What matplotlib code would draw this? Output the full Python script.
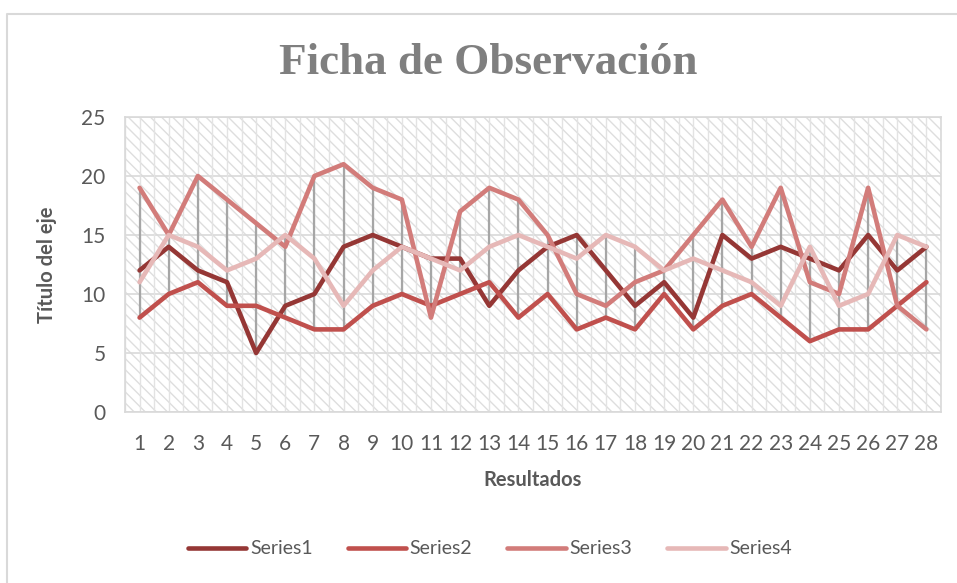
import matplotlib
matplotlib.use("Agg")
import matplotlib.pyplot as plt
from matplotlib.patches import Rectangle
from matplotlib.lines import Line2D
import numpy as np

categories = list(range(1, 29))
series1 = [12, 14, 12, 11, 5, 9, 10, 14, 15, 14, 13, 13, 9, 12, 14, 15, 12, 9, 11, 8, 15, 13, 14, 13, 12, 15, 12, 14]
series2 = [8, 10, 11, 9, 9, 8, 7, 7, 9, 10, 9, 10, 11, 8, 10, 7, 8, 7, 10, 7, 9, 10, 8, 6, 7, 7, 9, 11]
series3 = [19, 15, 20, 18, 16, 14, 20, 21, 19, 18, 8, 17, 19, 18, 15, 10, 9, 11, 12, 15, 18, 14, 19, 11, 10, 19, 9, 7]
series4 = [11, 15, 14, 12, 13, 15, 13, 9, 12, 14, 13, 12, 14, 15, 14, 13, 15, 14, 12, 13, 12, 11, 9, 14, 9, 10, 15, 14]
series_names = ["Series1", "Series2", "Series3", "Series4"]
colors = ["#953735", "#c0504d", "#d27c7a", "#e6b8b7"]
y_ticks = [0, 5, 10, 15, 20, 25]

W, H = 957, 583
fig = plt.figure(figsize=(W / 100, H / 100), dpi=100)
ax = fig.add_axes([125 / W, (H - 412) / H, (941 - 125) / W, (412 - 117) / H])

x = np.array(categories)
data = np.array([series1, series2, series3, series4])

ax.set_xlim(0.5, 28.5)
ax.set_ylim(0, 25)

# hatched background
bg = Rectangle((0, 0), 1, 1, transform=ax.transAxes, facecolor="white",
               edgecolor="#dedede", hatch="\\\\\\", linewidth=0, zorder=0)
ax.add_patch(bg)

# gridlines
for yv in y_ticks:
    ax.axhline(yv, color="#d9d9d9", lw=1.2, zorder=1)
for xv in np.arange(0.5, 28.6, 0.5):
    ax.axvline(xv, color="#e3e3e3", lw=1.0, zorder=1)

# high-low lines
ax.vlines(x, data.min(axis=0), data.max(axis=0), color="#a6a6a6", lw=1.6, zorder=2)

for vals, name, c in zip(data, series_names, colors):
    ax.plot(x, vals, color=c, lw=3.3, label=name, zorder=3, solid_capstyle="round")

for s in ax.spines.values():
    s.set_color("#d9d9d9")
    s.set_linewidth(1.2)

font = "Lato"
ax.set_xticks(categories)
ax.set_xticklabels([str(c) for c in categories], fontsize=15, color="#595959", family=font)
ax.set_yticks(y_ticks)
ax.set_yticklabels([str(v) for v in y_ticks], fontsize=15, color="#595959", family=font)
ax.tick_params(axis="both", length=0)
ax.tick_params(axis="y", pad=14)
ax.tick_params(axis="x", pad=16)

ax.set_xlabel("Resultados", fontsize=14.5, fontweight="bold", color="#595959", family=font, labelpad=11)
ax.set_ylabel("Título del eje", fontsize=14.5, fontweight="bold", color="#595959", family=font)
ax.yaxis.set_label_coords(-(125 - 57) / (941 - 125), 0.5)

fig.text(488 / W, 1 - 63 / H, "Ficha de Observación", ha="center", va="center",
         fontsize=32.5, fontweight="bold", color="#7f7f7f", family="Liberation Serif")

leg = fig.legend(loc="center", bbox_to_anchor=(490 / W, 1 - 549 / H), ncol=4, frameon=False,
                 handlelength=3.0, handletextpad=0.2, columnspacing=1.8,
                 prop={"family": font, "size": 14})
for t in leg.get_texts():
    t.set_color("#595959")
for h in leg.legend_handles:
    h.set_linewidth(3.3)

# outer chart border
fig.add_artist(Line2D([7 / W, 7 / W, 1.0], [0.0, 1 - 14 / H, 1 - 14 / H],
                      transform=fig.transFigure, color="#d9d9d9", lw=1.5))

fig.savefig("out.png", dpi=100)
